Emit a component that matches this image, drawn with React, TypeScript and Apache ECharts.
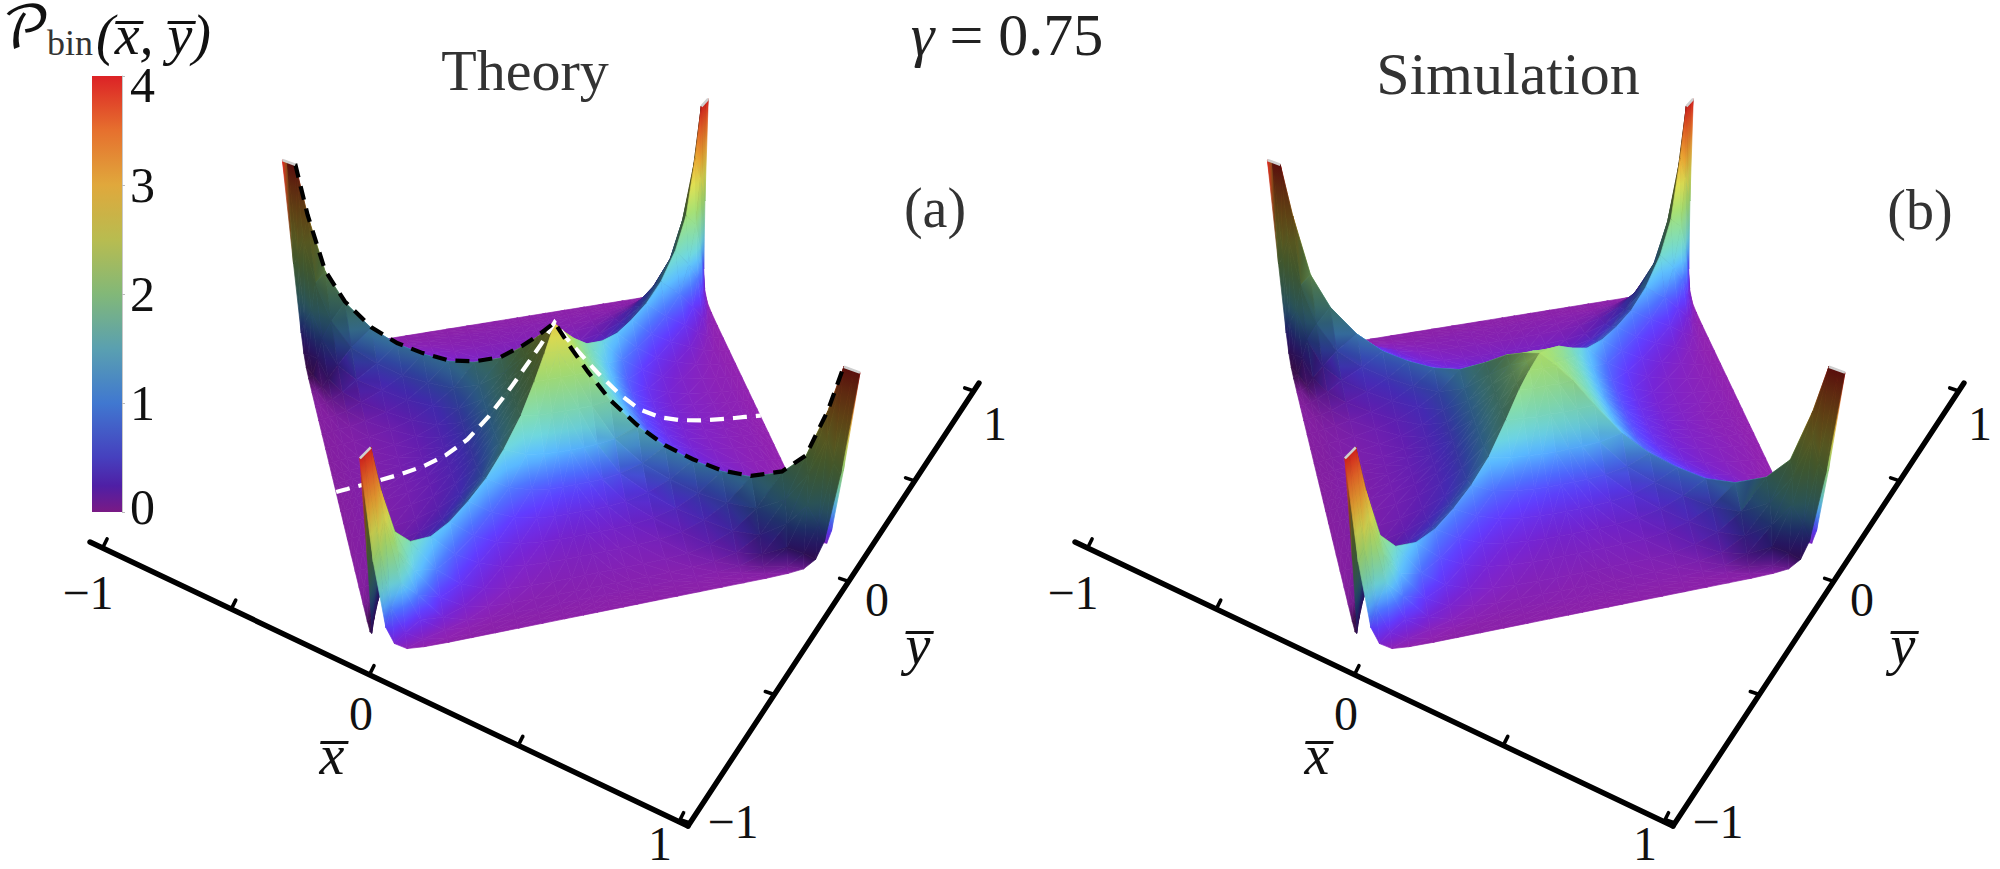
import React, { useEffect, useRef } from "react";
import * as echarts from "echarts";

// ---- data -----------------------------------------------------------------
// Distance of the table nodes from the centre, along the two diagonals of the diamond.
const gridNodes = [0, 0.06, 0.12, 0.2, 0.3, 0.4, 0.5, 0.6, 0.7, 0.8, 0.87, 0.92, 0.95, 0.98, 1];

// P_bin on one eighth of the domain: row = larger diagonal coordinate, column = smaller one.
const theoryRows = [
  [2.7],
  [2.3, 2.3],
  [1.95, 1.95, 1.95],
  [1.5, 1.5, 1.5, 1.55],
  [1.0, 1.0, 1.02, 1.07, 1.25],
  [0.6, 0.6, 0.61, 0.66, 0.79, 1.06],
  [0.36, 0.36, 0.37, 0.4, 0.5, 0.69, 1.0],
  [0.22, 0.22, 0.22, 0.24, 0.29, 0.41, 0.63, 1.0],
  [0.14, 0.14, 0.14, 0.15, 0.17, 0.24, 0.4, 0.67, 1.12],
  [0.09, 0.09, 0.09, 0.09, 0.1, 0.13, 0.22, 0.41, 0.79, 1.45],
  [0.06, 0.06, 0.06, 0.06, 0.06, 0.07, 0.1, 0.2, 0.47, 1.11, 1.95],
  [0.045, 0.045, 0.045, 0.045, 0.045, 0.05, 0.05, 0.09, 0.24, 0.78, 1.74, 3.0],
  [0.03, 0.03, 0.03, 0.03, 0.03, 0.03, 0.03, 0.04, 0.085, 0.39, 1.19, 2.55, 4.0],
  [0.02, 0.02, 0.02, 0.02, 0.02, 0.02, 0.02, 0.02, 0.03, 0.1, 0.3, 0.85, 2.1, 4.0],
  [0.01, 0.01, 0.01, 0.01, 0.01, 0.01, 0.01, 0.01, 0.01, 0.02, 0.05, 0.2, 0.55, 1.9, 4.0],
];

const simulationRows = [
  [2.08],
  [1.95, 1.96],
  [1.78, 1.76, 1.79],
  [1.43, 1.42, 1.44, 1.46],
  [0.95, 0.97, 0.98, 1.0, 1.1],
  [0.6, 0.6, 0.61, 0.64, 0.72, 0.92],
  [0.37, 0.37, 0.38, 0.4, 0.47, 0.62, 0.85],
  [0.23, 0.23, 0.23, 0.25, 0.29, 0.39, 0.58, 0.85],
  [0.15, 0.15, 0.15, 0.16, 0.18, 0.24, 0.37, 0.6, 1.0],
  [0.09, 0.09, 0.1, 0.1, 0.11, 0.14, 0.22, 0.39, 0.72, 1.35],
  [0.06, 0.06, 0.06, 0.07, 0.07, 0.08, 0.11, 0.2, 0.45, 1.05, 1.88],
  [0.045, 0.045, 0.05, 0.05, 0.05, 0.05, 0.06, 0.1, 0.25, 0.76, 1.7, 3.0],
  [0.03, 0.03, 0.03, 0.03, 0.03, 0.03, 0.03, 0.05, 0.09, 0.4, 1.2, 2.55, 4.0],
  [0.02, 0.02, 0.02, 0.02, 0.02, 0.02, 0.02, 0.02, 0.03, 0.11, 0.31, 0.86, 2.1, 4.0],
  [0.01, 0.01, 0.01, 0.01, 0.01, 0.01, 0.01, 0.01, 0.01, 0.02, 0.05, 0.2, 0.55, 1.9, 4.0],
];

const colorLevels = [0, 0.25, 0.5, 0.75, 1, 1.25, 1.5, 2, 2.5, 3, 3.5, 4];
const surfaceColors = [
  [140, 32, 165], [112, 35, 205], [92, 58, 245], [75, 110, 252], [85, 175, 250], [105, 205, 215],
  [122, 210, 175], [160, 215, 110], [215, 215, 80], [235, 165, 50], [235, 105, 40], [222, 35, 30],
];
const barStops = [
  [0, "#7a1a85"], [0.06, "#4f1fa5"], [0.125, "#4640be"], [0.25, "#4078d0"], [0.375, "#5aa0b0"],
  [0.5, "#82b878"], [0.625, "#b8bc50"], [0.75, "#e0a83c"], [0.875, "#e6702e"], [1, "#dc2226"],
];

const xTicks = [-1, -0.5, 0, 0.5, 1];
const yTicks = [-1, -0.5, 0, 0.5, 1];
const xTickLabels = ["\u22121", "0", "1"];
const yTickLabels = ["\u22121", "0", "1"];

// ---- view of the box --------------------------------------------------------
const FONT = '"Liberation Serif", serif';
const PANEL_SHIFT = 985;
const CORNER_L = [302.4, 353];
const CORNER_B = [699.6, 288.9];
const CORNER_R = [831.4, 565.6];
const CORNER_F = [375.9, 657.4];
const RISE_L = [-20, -193];
const RISE_B = [8.6, -190];
const RISE_R = [28.6, -193];
const RISE_F = [-16, -199];

const homography = (() => {
  const [x0, y0] = CORNER_L, [x1, y1] = CORNER_B, [x2, y2] = CORNER_R, [x3, y3] = CORNER_F;
  const sx = x0 - x1 + x2 - x3, sy = y0 - y1 + y2 - y3;
  const dx1 = x1 - x2, dx2 = x3 - x2, dy1 = y1 - y2, dy2 = y3 - y2;
  const den = dx1 * dy2 - dx2 * dy1;
  const g = (sx * dy2 - dx2 * sy) / den, h = (dx1 * sy - sx * dy1) / den;
  return { a: x1 - x0 + g * x1, b: x3 - x0 + h * x3, c: x0, d: y1 - y0 + g * y1, e: y3 - y0 + h * y3, f: y0, g, h };
})();

function project(u: number, v: number, z: number, shift: number) {
  const s = (u + 1) / 2, t = (v + 1) / 2;
  const H = homography;
  const w = H.g * s + H.h * t + 1;
  const bx = (H.a * s + H.b * t + H.c) / w, by = (H.d * s + H.e * t + H.f) / w;
  const mix = (k: number) =>
    (1 - s) * (1 - t) * RISE_L[k] + s * (1 - t) * RISE_B[k] + s * t * RISE_R[k] + (1 - s) * t * RISE_F[k];
  return [bx + (mix(0) * z) / 4 + shift, by + (mix(1) * z) / 4];
}

function shadedRgb(z: number, shade: number) {
  const lv = Math.max(0, Math.min(4, z));
  let i = 0;
  while (i < colorLevels.length - 2 && lv > colorLevels[i + 1]) i++;
  const f = (lv - colorLevels[i]) / (colorLevels[i + 1] - colorLevels[i]);
  return [0, 1, 2].map((k) => {
    const val = surfaceColors[i][k] * (1 - f) + surfaceColors[i + 1][k] * f;
    return Math.max(0, Math.min(255, val * shade));
  });
}
function shadedColor(z: number, shade: number) {
  const c = shadedRgb(z, shade);
  return `rgb(${Math.round(c[0])},${Math.round(c[1])},${Math.round(c[2])})`;
}

// ---- triangles of one surface, built from a table ------------------------------
function wedgeOf(u: number, v: number) {
  return Math.abs(u) > Math.abs(v) ? (u > 0 ? 0 : 1) : v > 0 ? 2 : 3;
}
function inWedge(u: number, v: number, w: number) {
  const e = 1e-9;
  if (w === 0) return u >= Math.abs(v) - e;
  if (w === 1) return -u >= Math.abs(v) - e;
  if (w === 2) return v >= Math.abs(u) - e;
  return -v >= Math.abs(u) - e;
}

function buildSurface(rows: number[][]) {
  const n = gridNodes.length - 1;
  const coords: number[] = [];
  for (let i = -n; i <= n; i++) coords.push(i < 0 ? -gridNodes[-i] : gridNodes[i]);
  const valueAt = (i: number, j: number) => {
    const a = Math.abs(i - n), b = Math.abs(j - n);
    return rows[Math.max(a, b)][Math.min(a, b)];
  };
  const LU = 0.62, LZ = 0.78, ZS = 0.22;
  const shadeOf = (fu: number) => {
    const nu = -ZS * fu;
    const d = (nu * LU + LZ) / Math.sqrt(1 + nu * nu);
    return Math.min(1.05, 0.4 + 0.78 * Math.max(0, d));
  };
  const slopeAt = (i: number, j: number, w: number) => {
    let sum = 0, cnt = 0;
    if (i < 2 * n && inWedge(coords[i + 1], coords[j], w)) {
      sum += (valueAt(i + 1, j) - valueAt(i, j)) / (coords[i + 1] - coords[i]);
      cnt++;
    }
    if (i > 0 && inWedge(coords[i - 1], coords[j], w)) {
      sum += (valueAt(i, j) - valueAt(i - 1, j)) / (coords[i] - coords[i - 1]);
      cnt++;
    }
    return cnt ? sum / cnt : 0;
  };
  const out: any[] = [];
  for (let i = 0; i < 2 * n; i++) {
    for (let j = 0; j < 2 * n; j++) {
      const mu = coords[i] + coords[i + 1], mv = coords[j] + coords[j + 1];
      const q = mu * mv > 0
        ? [[[i, j], [i + 1, j], [i + 1, j + 1]], [[i, j], [i + 1, j + 1], [i, j + 1]]]
        : [[[i, j], [i + 1, j], [i, j + 1]], [[i + 1, j], [i + 1, j + 1], [i, j + 1]]];
      for (const tri of q) {
        const p = tri.map(([a, b]) => [coords[a], coords[b], valueAt(a, b)]);
        const cu = (p[0][0] + p[1][0] + p[2][0]) / 3, cv = (p[0][1] + p[1][1] + p[2][1]) / 3;
        const wedge = wedgeOf(cu, cv);
        const shades = tri.map(([a, b]) => shadeOf(slopeAt(a, b, wedge)));
        out.push({ depth: (cu - cv) / 2, row: [0, ...p[0], ...p[1], ...p[2], ...shades] });
      }
    }
  }
  out.sort((x, y) => y.depth - x.depth);
  return out;
}

function triangleElement(api: any, shift: number) {
  const verts = [0, 1, 2].map((k) => ({
    u: api.value(1 + k * 3),
    v: api.value(2 + k * 3),
    z: api.value(3 + k * 3),
    s: api.value(10 + k),
  }));
  const pts = verts.map((w) => api.coord(project(w.u, w.v, w.z, shift)));
  const cols = verts.map((w) => shadedRgb(w.z, w.s));
  const dist = (p: number[], q: number[]) => Math.hypot(p[0] - q[0], p[1] - q[1], p[2] - q[2]);
  // the two vertices whose colours differ most are the ends of the gradient
  let ia = 0, ic = 1;
  if (dist(cols[1], cols[2]) > dist(cols[ia], cols[ic])) { ia = 1; ic = 2; }
  if (dist(cols[0], cols[2]) > dist(cols[ia], cols[ic])) { ia = 0; ic = 2; }
  const ib = 3 - ia - ic;
  const a = verts[ia], b = verts[ib], c = verts[ic];
  const pa = pts[ia], pb = pts[ib], pc = pts[ic];
  const ca = cols[ia], cb = cols[ib], cc = cols[ic];
  let fill: any = shadedColor((a.z + b.z + c.z) / 3, (a.s + b.s + c.s) / 3);
  const d2 = dist(ca, cc) ** 2;
  if (d2 > 1) {
    let t1 = ((cb[0] - ca[0]) * (cc[0] - ca[0]) + (cb[1] - ca[1]) * (cc[1] - ca[1]) + (cb[2] - ca[2]) * (cc[2] - ca[2])) / d2;
    t1 = Math.max(0.001, Math.min(0.999, t1));
    const qx = pa[0] + (pc[0] - pa[0]) * t1, qy = pa[1] + (pc[1] - pa[1]) * t1;
    const dx = qx - pb[0], dy = qy - pb[1];
    const len = Math.hypot(dx, dy);
    if (len > 1e-3) {
      const nx = -dy / len, ny = dx / len;
      const span = (pc[0] - pa[0]) * nx + (pc[1] - pa[1]) * ny;
      if (Math.abs(span) > 0.05) {
        const zMid = (b.z + a.z + (c.z - a.z) * t1) / 2;
        const sMid = (b.s + a.s + (c.s - a.s) * t1) / 2;
        const steps = Math.min(8, Math.ceil(Math.abs(c.z - a.z) / 0.2) + 1);
        const ts = new Set<number>();
        for (let k = 0; k <= steps; k++) ts.add(k / steps);
        ts.add(t1);
        const stops = Array.from(ts).sort((x, y) => x - y).map((t) => {
          const z = t <= t1 ? a.z + (zMid - a.z) * (t / t1) : zMid + (c.z - zMid) * ((t - t1) / (1 - t1));
          const s = t <= t1 ? a.s + (sMid - a.s) * (t / t1) : sMid + (c.s - sMid) * ((t - t1) / (1 - t1));
          return { offset: t, color: shadedColor(z, s) };
        });
        fill = new echarts.graphic.LinearGradient(
          pa[0], pa[1], pa[0] + nx * span, pa[1] + ny * span, stops, true
        );
      }
    }
  }
  return {
    type: "polygon",
    shape: { points: pts },
    style: { fill, stroke: fill, lineWidth: 0.7 },
    silent: true,
  };
}

function ridgePoints(api: any, shift: number, pick: (t: number) => [number, number, number]) {
  const n = gridNodes.length - 1;
  const out: number[][] = [];
  for (let i = -n; i <= n; i++) {
    const t = i < 0 ? -gridNodes[-i] : gridNodes[i];
    const [u, v, z] = pick(t);
    out.push(api.coord(project(u, v, z, shift)));
  }
  return out;
}

function surfaceSeries(rows: number[][], shift: number, withLines: boolean) {
  const items = buildSurface(rows);
  const frontLimit = -0.55;
  const back = items.filter((i) => i.depth >= frontLimit).map((i) => i.row);
  const front = items.filter((i) => i.depth < frontLimit).map((i) => i.row);
  const tableValue = (a: number, b: number) => rows[Math.max(a, b)][Math.min(a, b)];
  const data = withLines
    ? [...back, [1, 0, 0, 0, 0, 0, 0, 0, 0, 0, 0, 0, 0], ...front, [2, 0, 0, 0, 0, 0, 0, 0, 0, 0, 0, 0, 0]]
    : [...back, ...front];
  const dashStyle = (color: string) => ({
    fill: "none", stroke: color, lineWidth: 4.2, lineDash: [14, 9],
  });
  const indexOf = (t: number) => gridNodes.indexOf(Math.abs(t));
  return {
    type: "custom",
    coordinateSystem: "cartesian2d",
    xAxisIndex: 0,
    yAxisIndex: 0,
    clip: false,
    silent: true,
    progressive: 0,
    data,
    renderItem: (_p: any, api: any) => {
      const kind = api.value(0);
      if (kind === 1) {
        const pts = ridgePoints(api, shift, (t) => [t, 0, tableValue(indexOf(t), 0) + 0.02]);
        return { type: "polyline", shape: { points: pts }, style: dashStyle("#ffffff"), silent: true };
      }
      if (kind === 2) {
        const black = ridgePoints(api, shift, (t) => [t, t, tableValue(indexOf(t), indexOf(t)) + 0.02]);
        return { type: "polyline", shape: { points: black.slice(2, -2) }, style: dashStyle("#000000"), silent: true };
      }
      return triangleElement(api, shift);
    },
  };
}

function capSeries(shift: number) {
  return {
    type: "custom",
    coordinateSystem: "cartesian2d",
    xAxisIndex: 0,
    yAxisIndex: 0,
    clip: false,
    silent: true,
    data: [[-1, -1], [1, -1], [1, 1], [-1, 1]],
    renderItem: (_p: any, api: any) => {
      const u = api.value(0), v = api.value(1);
      const inner = gridNodes[gridNodes.length - 3];
      const a = api.coord(project(u * inner, v * inner, 4, shift));
      const b = api.coord(project(u, v, 4, shift));
      return {
        type: "line",
        shape: { x1: a[0], y1: a[1], x2: b[0], y2: b[1] },
        style: { stroke: "#cfcfcf", lineWidth: 2.6 },
        silent: true,
      };
    },
  };
}

// ---- axes drawn as perspective lines -----------------------------------------
const X_LINE = [[90, 542], [688, 826]];
const Y_LINE = [[688, 826], [979, 383]];
const X_TICK_SPAN = [0.021, 0.985];
const Y_TICK_SPAN = [0.007, 0.982];
const X_BEND = -0.138;
const Y_BEND = 0.268;

function axisSeries(shift: number) {
  const line = (api: any, a: number[], b: number[], width: number) => {
    const p = api.coord([a[0] + shift, a[1]]), q = api.coord([b[0] + shift, b[1]]);
    return {
      type: "line",
      shape: { x1: p[0], y1: p[1], x2: q[0], y2: q[1] },
      style: { stroke: "#000", lineWidth: width, lineCap: "round" },
      silent: true,
    };
  };
  const along = (seg: number[][], span: number[], bend: number, value: number) => {
    const s = (value + 1) / 2;
    const w = (s * (1 + bend)) / (1 + bend * s);
    const f = span[0] + (span[1] - span[0]) * w;
    return [seg[0][0] + (seg[1][0] - seg[0][0]) * f, seg[0][1] + (seg[1][1] - seg[0][1]) * f];
  };
  const data = [...xTicks.map((t) => [0, t]), ...yTicks.map((t) => [1, t])];
  return {
    type: "custom",
    coordinateSystem: "cartesian2d",
    xAxisIndex: 0,
    yAxisIndex: 0,
    clip: false,
    silent: true,
    data: [[2, 0], ...data],
    renderItem: (_p: any, api: any) => {
      const kind = api.value(0), t = api.value(1);
      if (kind === 2) {
        return {
          type: "group",
          children: [line(api, X_LINE[0], X_LINE[1], 5.4), line(api, Y_LINE[0], Y_LINE[1], 5.4)],
        };
      }
      if (kind === 0) {
        const p = along(X_LINE, X_TICK_SPAN, X_BEND, t);
        return line(api, p, [p[0] + 4.5, p[1] - 9], 3.6);
      }
      const p = along(Y_LINE, Y_TICK_SPAN, Y_BEND, t);
      return line(api, p, [p[0] - 9, p[1] - 3], 3.6);
    },
  };
}

function textEl(text: string, x: number, y: number, size: number, extra: any = {}) {
  return {
    type: "text",
    x,
    y,
    silent: true,
    style: {
      text,
      fontFamily: FONT,
      fontSize: size,
      fill: "#111",
      align: "center",
      verticalAlign: "middle",
      ...extra,
    },
  };
}

function panelLabels(shift: number) {
  return [
    textEl(xTickLabels[0], 88 + shift, 592, 48),
    textEl(xTickLabels[1], 361 + shift, 713, 48),
    textEl(xTickLabels[2], 660 + shift, 843, 48),
    textEl(yTickLabels[0], 733 + shift, 821, 48),
    textEl(yTickLabels[1], 877 + shift, 599, 48),
    textEl(yTickLabels[2], 995 + shift, 423, 48),
    textEl("x\u0305", 332 + shift, 755, 56, { fontStyle: "italic" }),
    textEl("y\u0305", 918 + shift, 645, 56, { fontStyle: "italic" }),
  ];
}

export default function App() {
  const ref = useRef<HTMLDivElement>(null);
  useEffect(() => {
    if (!ref.current) return;
    const chart = echarts.init(ref.current, undefined, { renderer: "svg" });
    chart.setOption({
      animation: false,
      backgroundColor: "#ffffff",
      grid: [
        { left: 0, top: 0, width: 2000, height: 869 },
        { left: 92, top: 76, width: 30, height: 436 },
      ],
      xAxis: [
        { type: "value", min: 0, max: 2000, show: false, gridIndex: 0 },
        { type: "category", data: ["P"], show: false, gridIndex: 1 },
      ],
      yAxis: [
        { type: "value", min: 0, max: 869, inverse: true, show: false, gridIndex: 0 },
        {
          type: "value",
          min: 0,
          max: 4,
          interval: 1,
          position: "right",
          gridIndex: 1,
          splitLine: { show: false },
          axisLine: { show: true, lineStyle: { color: "#c8c8c8", width: 1 } },
          axisTick: { show: true, length: 3, lineStyle: { color: "#bbbbbb" } },
          axisLabel: {
            fontFamily: FONT,
            fontSize: 50,
            color: "#111",
            margin: 8,
            verticalAlignMinLabel: "bottom",
            verticalAlignMaxLabel: "top",
            formatter: (v: number) => (v === 4 ? `{a|${v}}` : v === 0 ? `{z|${v}}` : `${v}`),
            rich: {
              a: { fontFamily: FONT, fontSize: 50, color: "#111", lineHeight: 18 },
              z: { fontFamily: FONT, fontSize: 50, color: "#111", lineHeight: 10 },
            },
          },
        },
      ],
      graphic: {
        elements: [
          ...panelLabels(0),
          ...panelLabels(PANEL_SHIFT),
          textEl("Theory", 525, 70, 58, { fill: "#333" }),
          textEl("Simulation", 1508, 74, 60, { fill: "#333" }),
          textEl("(a)", 935, 208, 56, { fill: "#333" }),
          textEl("(b)", 1920, 210, 56, { fill: "#333" }),
          {
            type: "text",
            x: 1007,
            y: 35,
            silent: true,
            style: {
              text: "{g|\u03b3}{t| = 0.75}",
              fontFamily: FONT,
              fontSize: 60,
              fill: "#222",
              align: "center",
              verticalAlign: "middle",
              rich: {
                g: { fontFamily: FONT, fontStyle: "italic", fontSize: 60, fill: "#222", lineHeight: 60 },
                t: { fontFamily: FONT, fontSize: 60, fill: "#222", lineHeight: 60 },
              },
            },
          },
          textEl("\ud835\udcab", 2, 31, 58, {
            align: "left",
            fontFamily: '"DejaVu Math TeX Gyre","Noto Sans Math","DejaVu Serif",serif',
          }),
          textEl("bin", 47, 43, 36, { align: "left", fill: "#333" }),
          textEl("(x\u0305, y\u0305)", 96, 35, 56, { align: "left", fontStyle: "italic" }),
        ],
      },
      series: [
        {
          type: "bar",
          xAxisIndex: 1,
          yAxisIndex: 1,
          barWidth: "100%",
          silent: true,
          data: [4],
          itemStyle: {
            color: new echarts.graphic.LinearGradient(
              0, 1, 0, 0,
              barStops.map(([offset, color]) => ({ offset, color }))
            ),
          },
        },
        surfaceSeries(theoryRows, 0, true),
        capSeries(0),
        surfaceSeries(simulationRows, PANEL_SHIFT, false),
        capSeries(PANEL_SHIFT),
        axisSeries(0),
        axisSeries(PANEL_SHIFT),
      ],
    });
    return () => chart.dispose();
  }, []);
  return (
    <div
      ref={ref}
      style={{ position: "absolute", left: 0, top: 0, width: 2000, height: 869, background: "#fff" }}
    />
  );
}
